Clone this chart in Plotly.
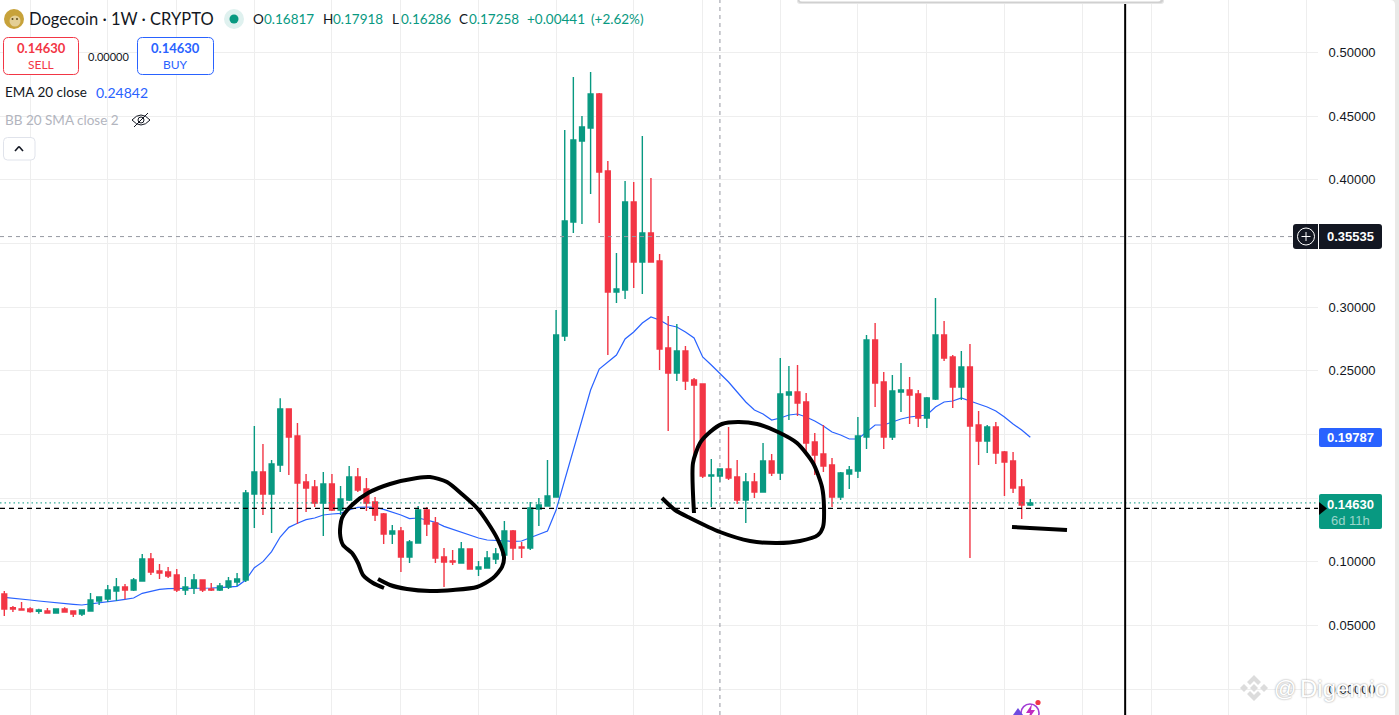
"""Dogecoin weekly candles with EMA 20, hand-drawn marks and the TradingView header."""

import plotly.graph_objects as go

UP = "#089981"
DOWN = "#F23645"
BLUE = "#2962FF"
INK = "#131722"
GRID = "#eeeeee"
FONT = "Liberation Sans"
HEAD_FONT = "Lato"

OPEN = [
    .07481, .06408, .06303, .06303, .06120, .06146, .05989, .06303, .06146, .05911,
    .06146, .06931, .07088, .07716, .08030, .07795, .08501, .10228, .09286, .09207,
    .08972, .07795, .07952, .08580, .07873, .07795, .08030, .08423, .08580, .15330,
    .17057, .15330, .17606, .22002, .19882, .16272, .15879, .14623, .16115, .14074,
    .14859, .16664, .15722, .14702, .13760, .12190, .12426, .10385, .11484, .14074,
    .13054, .10385, .10071, .09914, .11013, .09443, .09521, .10228, .10542, .12426,
    .11170, .11091, .14152, .14388, .15094, .27731, .36679, .43037, .44058, .46726,
    .40682, .31185, .31342, .38249, .33540, .35816, .33618, .26789, .24827, .26554,
    .24278, .23964, .16742, .16742, .17292, .16664, .14859, .16271, .15487, .17920,
    .16978, .23100, .23336, .22551, .19411, .18469, .17606, .15094, .16899, .17135,
    .19804, .27417, .24121, .19804, .23336, .23493, .23179, .21295, .22786, .27810,
    .26083, .23728, .25298, .20746, .19490, .20589, .18626, .17920, .15879, .14466,
]
HIGH = [
    .07716, .06539, .06853, .06434, .06329, .06382, .06356, .06434, .06146, .06225,
    .07559, .07245, .08187, .08737, .08266, .08737, .10620, .10699, .09835, .09600,
    .09443, .08815, .09050, .08580, .08344, .08344, .08815, .09129, .15644, .20667,
    .19254, .17999, .22839, .22002, .20903, .16900, .16429, .17057, .16900, .15958,
    .17528, .17371, .16586, .15094, .13838, .12897, .12740, .11719, .14388, .14309,
    .13525, .11091, .10934, .11562, .11013, .10071, .10856, .11091, .13211, .12504,
    .11562, .14702, .15016, .17999, .29772, .43901, .48061, .44999, .48453, .46805,
    .41467, .34246, .39897, .39819, .43430, .40133, .34168, .29301, .28673, .26946,
    .24435, .24016, .18077, .17292, .20589, .17998, .16978, .16978, .19333, .18469,
    .26004, .25377, .25455, .23257, .20118, .20745, .18155, .17056, .17527, .21374,
    .27810, .28752, .24906, .24670, .25612, .24513, .23493, .22943, .30714, .28909,
    .26240, .26554, .27103, .21844, .20746, .20981, .18705, .18626, .16507, .14937,
]
LOW = [
    .05754, .06068, .06225, .06015, .05937, .05989, .05989, .06015, .05675, .05754,
    .06146, .06617, .06853, .06931, .07062, .07716, .08501, .08972, .08658, .08737,
    .07638, .07402, .07481, .07638, .07716, .07716, .07873, .08109, .08423, .12661,
    .13681, .12269, .17057, .16821, .12975, .13917, .14309, .12033, .13995, .13681,
    .14780, .15487, .13995, .13211, .11405, .11405, .09207, .09914, .11484, .12033,
    .09914, .08030, .09757, .09914, .09443, .08893, .09521, .09835, .10542, .10149,
    .10306, .10934, .12818, .14388, .15094, .27339, .35816, .36522, .38877, .36601,
    .26240, .30321, .30635, .31499, .31028, .33540, .25062, .20274, .24199, .23493,
    .18155, .16585, .14309, .16271, .16428, .14545, .13053, .15016, .15487, .16742,
    .16428, .21138, .21452, .18626, .16821, .17056, .14309, .14859, .15722, .16586,
    .18862, .22158, .18862, .19568, .21766, .20824, .20589, .20510, .22708, .25769,
    .22080, .22708, .10306, .17606, .18548, .17684, .15173, .15408, .13367, .14388,
]
CLOSE = [
    .06303, .06303, .06225, .06094, .06225, .05989, .06303, .06068, .05911, .06225,
    .07010, .07245, .07795, .08030, .07795, .08580, .10228, .09207, .09129, .08893,
    .07795, .08030, .08580, .07795, .07795, .08109, .08501, .08658, .15408, .17057,
    .15330, .17685, .22002, .19804, .16193, .15801, .14623, .16115, .14074, .14937,
    .16664, .15644, .14623, .13681, .12190, .12426, .10385, .11562, .14074, .12975,
    .10306, .09992, .09992, .11013, .09443, .09600, .10306, .10620, .12426, .11091,
    .11091, .14231, .14466, .15173, .27810, .36758, .43116, .44136, .46726, .40604,
    .31185, .31420, .38249, .33540, .35816, .33540, .26711, .24827, .26554, .24199,
    .23885, .16742, .16821, .17292, .16585, .14859, .16271, .15487, .17920, .16978,
    .23179, .23336, .22472, .19333, .18391, .17527, .15094, .16978, .17213, .19882,
    .27417, .24042, .19804, .23414, .23493, .23100, .21295, .22865, .27810, .26005,
    .23728, .25298, .20667, .19490, .20589, .18548, .17841, .15801, .14466, .14630,
]
EMA = [
    .07219, .07167, .07088, .07010, .06931, .06853, .06801, .06748, .06670, .06617,
    .06696, .06748, .06879, .06958, .07062, .07167, .07533, .07716, .07847, .07899,
    .07899, .07899, .07925, .07952, .07952, .07978, .08030, .08082, .08580, .09548,
    .10019, .10803, .11955, .12713, .13028, .13315, .13446, .13681, .13760, .13812,
    .14074, .14283, .14309, .14283, .14126, .13917, .13681, .13394, .13446, .13289,
    .13106, .12792, .12556, .12321, .12059, .11876, .11719, .11667, .11641, .11615,
    .11641, .11902, .12164, .12426, .14074, .16429, .18626, .21138, .23493, .25141,
    .25691, .26240, .27496, .28046, .28752, .29223, .28987, .28595, .28438, .28046,
    .27575, .26083, .25455, .24827, .24121, .23336, .22551, .21923, .21609, .21138,
    .21295, .21531, .21609, .21374, .21060, .20667, .20196, .19961, .19647, .19647,
    .20196, .20746, .20746, .20981, .21217, .21374, .21452, .21531, .22159, .22551,
    .22630, .22865, .22630, .22394, .22159, .21845, .21374, .20824, .20353, .19787,
]
WEEKS = list(range(len(CLOSE)))

PRICE_TICKS = [0, .05, .10, .15, .20, .25, .30, .35, .40, .45, .50]
WEEK_GRID = [3, 12, 20, 29, 38, 46, 55, 64, 73, 81, 90, 99, 107, 116, 125, 133, 142, 151]

LAST_PRICE = .14630
DRAWN_LEVEL = .14207
CROSS_PRICE = .35535
CROSS_WEEK = 83
DRAWN_LINE_WEEK = 130

# freehand marks, in page pixels
LOOP_LEFT_X = [384, 373, 363, 358, 352, 343, 340, 342, 352, 368, 390, 417, 430, 447, 463, 477, 488, 498, 504, 502, 493, 477, 453, 430, 407, 390, 378]
LOOP_LEFT_Y = [588, 583, 575, 563, 553, 545, 533, 518, 505, 493, 484, 478, 477, 482, 495, 508, 523, 540, 557, 567, 578, 587, 590, 591, 589, 585, 579]
LOOP_RIGHT_X = [694, 693, 700, 710, 722, 738, 757, 778, 797, 813, 822, 824, 823, 818, 800, 777, 750, 720, 690, 675, 662]
LOOP_RIGHT_Y = [513, 463, 443, 432, 424, 422, 424, 432, 443, 463, 487, 507, 527, 535, 541, 543, 541, 532, 518, 510, 498]
DASH_X = [1012, 1067]
DASH_Y = [527, 530]

# the plot runs from x=0 to x=1318 on a 1399x715 page
W, H = 1399, 715
PLOT_W = 1318
X0_PX, X_STEP = 4.3, 8.622
Y0_PX, Y_SCALE = 689.3, 1274
X_RANGE = [(0 - X0_PX) / X_STEP, (PLOT_W - X0_PX) / X_STEP]
Y_RANGE = [(Y0_PX - H) / Y_SCALE, Y0_PX / Y_SCALE]


def text(x, y, s, size=13, color=INK, anchor="left", family=HEAD_FONT, **font):
    return dict(
        x=x, y=y, xref="x2", yref="y3", text=s, showarrow=False,
        xanchor=anchor, yanchor="middle", borderpad=0,
        font=dict(size=size, color=color, family=family, **font),
    )


def rounded(x0, y0, x1, y1, r, fill="white", line=None, width=1):
    path = (
        f"M {x0 + r} {y0} L {x1 - r} {y0} Q {x1} {y0} {x1} {y0 + r} "
        f"L {x1} {y1 - r} Q {x1} {y1} {x1 - r} {y1} L {x0 + r} {y1} "
        f"Q {x0} {y1} {x0} {y1 - r} L {x0} {y0 + r} Q {x0} {y0} {x0 + r} {y0} Z"
    )
    return dict(
        type="path", path=path, xref="x2", yref="y3", layer="above", fillcolor=fill,
        line=dict(color=line or "rgba(0,0,0,0)", width=width),
    )


def circle(cx, cy, r, fill="rgba(0,0,0,0)", line=None, width=1):
    return dict(
        type="circle", x0=cx - r, y0=cy - r, x1=cx + r, y1=cy + r, xref="x2", yref="y3",
        layer="above", fillcolor=fill, line=dict(color=line or "rgba(0,0,0,0)", width=width),
    )


def stroke(x0, y0, x1, y1, color, width=1):
    return dict(
        type="line", x0=x0, y0=y0, x1=x1, y1=y1, xref="x2", yref="y3", layer="above",
        line=dict(color=color, width=width),
    )


def polygon(path, fill):
    return dict(
        type="path", path=path, xref="x2", yref="y3", layer="above",
        fillcolor=fill, line=dict(width=0),
    )


fig = go.Figure()

# EMA sits on the lower y axis so the candles cover it
fig.add_trace(go.Scatter(
    x=WEEKS, y=EMA, mode="lines", line=dict(color=BLUE, width=1.2),
    xaxis="x", yaxis="y", hoverinfo="skip", showlegend=False,
))
fig.add_trace(go.Candlestick(
    x=WEEKS, open=OPEN, high=HIGH, low=LOW, close=CLOSE,
    increasing=dict(line=dict(color=UP, width=1.4), fillcolor=UP),
    decreasing=dict(line=dict(color=DOWN, width=1.4), fillcolor=DOWN),
    whiskerwidth=0, xaxis="x", yaxis="y2", hoverinfo="skip", showlegend=False,
))

for xs, ys, color, width, dash in (
    (X_RANGE, [LAST_PRICE, LAST_PRICE], UP, 1, "1.5px,3px"),
    (X_RANGE, [DRAWN_LEVEL, DRAWN_LEVEL], "#000000", 1.2, "5px,4px"),
    (X_RANGE, [CROSS_PRICE, CROSS_PRICE], "#9598a1", 1, "4px,4px"),
    ([CROSS_WEEK, CROSS_WEEK], Y_RANGE, "#9598a1", 1, "4px,4px"),
    ([DRAWN_LINE_WEEK, DRAWN_LINE_WEEK], Y_RANGE, "#000000", 2, "solid"),
):
    fig.add_trace(go.Scatter(
        x=xs, y=ys, mode="lines", line=dict(color=color, width=width, dash=dash),
        xaxis="x", yaxis="y2", hoverinfo="skip", showlegend=False,
    ))

for xs, ys in ((LOOP_LEFT_X, LOOP_LEFT_Y), (LOOP_RIGHT_X, LOOP_RIGHT_Y), (DASH_X, DASH_Y)):
    fig.add_trace(go.Scatter(
        x=xs, y=ys, mode="lines", line=dict(color="#000000", width=4, shape="spline", smoothing=0.7),
        xaxis="x2", yaxis="y3", hoverinfo="skip", showlegend=False,
    ))

shapes = [
    # popup edge at the top, page edge at the right
    rounded(797, -4, 1164, 4, 3, fill="#e6e6e6"),
    rounded(798, -4, 1163, 3, 3, fill="#d0d0d0"),
    rounded(799, -4, 1161, 1.5, 3, fill="#ffffff"),
    polygon("M 1399 0 L 1390 0 Q 1395 0 1395 5 L 1395 715 L 1399 715 Z", "#e9e9e7"),
    # coin logo and market status dot
    circle(14, 19, 10, fill="#c7a23a"),
    circle(15, 21, 5.5, fill="#e4cf95"),
    circle(12.5, 19, 1, fill="#5b4a1c"),
    circle(17, 19, 1, fill="#5b4a1c"),
    circle(234, 19, 10, fill="#dff1ef"),
    circle(234, 19, 4.5, fill=UP),
    # sell and buy buttons
    rounded(3.5, 37.5, 78.5, 74.5, 5, line=DOWN),
    rounded(137.5, 37.5, 213.5, 74.5, 5, line=BLUE),
    # hidden-indicator eye and collapse button
    dict(type="path", path="M 132 120 Q 141 110 150 120 Q 141 130 132 120 Z", xref="x2", yref="y3",
         layer="above", fillcolor="rgba(0,0,0,0)", line=dict(color=INK, width=1)),
    circle(141, 120, 3, line=INK),
    stroke(134, 127, 148, 113, INK),
    rounded(3.5, 137.5, 35, 160, 4, line="#e0e3eb"),
    stroke(15, 151, 19, 146.5, INK, 1.6),
    stroke(19, 146.5, 23, 151, INK, 1.6),
    # price labels on the scale
    rounded(1293, 224, 1382, 249, 3, fill=INK),
    stroke(1318.5, 224, 1318.5, 249, "#ffffff"),
    circle(1306, 236.5, 8.5, line="#ffffff"),
    stroke(1301.5, 236.5, 1310.5, 236.5, "#ffffff"),
    stroke(1306, 232, 1306, 241, "#ffffff"),
    rounded(1319, 428, 1382, 447, 2, fill=BLUE),
    rounded(1319, 494, 1382, 529, 2, fill=UP),
    polygon("M 1319 502 L 1327 508.5 L 1319 515 Z", "#000000"),
    # exchange logo watermark
    polygon("M 1254 675 L 1261 682 L 1258 685 L 1254 681 L 1250 685 L 1247 682 Z", "#dcdcdc"),
    polygon("M 1254 701 L 1261 694 L 1258 691 L 1254 695 L 1250 691 L 1247 694 Z", "#dcdcdc"),
    polygon("M 1254 684 L 1258 688 L 1254 692 L 1250 688 Z", "#dcdcdc"),
    polygon("M 1244 684 L 1248 688 L 1244 692 L 1240 688 Z", "#dcdcdc"),
    polygon("M 1264 684 L 1268 688 L 1264 692 L 1260 688 Z", "#dcdcdc"),
    # badge clipped by the bottom of the page
    circle(1030, 713, 9, line="#a23cd6", width=1.6),
    polygon("M 1032 704 L 1026 713 L 1030 713 L 1028 720 L 1035 710 L 1031 710 Z", "#c02bc0"),
    polygon("M 1013 715 L 1018 708 L 1023 715 Z", "#6f4be0"),
    circle(1038, 702.5, 2.6, fill=DOWN),
]

annotations = [
    text(28, 19, "Dogecoin · 1W · CRYPTO", size=16.5),
    text(252, 19, "O", size=13.5), text(263, 19, "0.16817", size=13.5, color=UP),
    text(322, 19, "H", size=13.5), text(332, 19, "0.17918", size=13.5, color=UP),
    text(391, 19, "L", size=13.5), text(400, 19, "0.16286", size=13.5, color=UP),
    text(458, 19, "C", size=13.5), text(468, 19, "0.17258", size=13.5, color=UP),
    text(526, 19, "+0.00441", size=13.5, color=UP),
    text(590, 19, "(+2.62%)", size=13.5, color=UP),
    text(41, 48, "<b>0.14630</b>", size=13, color=DOWN, anchor="center"),
    text(41, 64, "SELL", size=12, color=DOWN, anchor="center"),
    text(108, 56, "0.00000", size=11, anchor="center"),
    text(175.5, 48, "<b>0.14630</b>", size=13, color=BLUE, anchor="center"),
    text(175.5, 64, "BUY", size=12, color=BLUE, anchor="center"),
    text(4, 92, "EMA 20 close", size=13.5),
    text(95, 92, "0.24842", size=14, color=BLUE),
    text(4, 120, "BB 20 SMA close 2", size=13.5, color="#b2b5be"),
    text(1350.5, 236.5, "<b>0.35535</b>", size=13, color="#ffffff", anchor="center", family=FONT),
    text(1350.5, 437.5, "<b>0.19787</b>", size=13, color="#ffffff", anchor="center", family=FONT),
    text(1350.5, 504, "<b>0.14630</b>", size=13, color="#ffffff", anchor="center", family=FONT),
    text(1350.5, 520, "6d 11h", size=13, color="rgba(255,255,255,0.6)", anchor="center", family=FONT),
    text(1273, 688, "@", size=22, color="#ffffff", family=FONT, shadow="0px 0px 2px #8a8a8a"),
    text(1299, 688, "Digemio", size=24, color="#ffffff", family=FONT, shadow="0px 0px 2px #8a8a8a"),
]

axis_common = dict(showline=False, zeroline=False)
fig.update_layout(
    width=W,
    height=H,
    margin=dict(l=0, r=0, t=0, b=0),
    paper_bgcolor="#ffffff",
    # transparent: a filled overlay subplot would paint over the chart below it
    plot_bgcolor="rgba(0,0,0,0)",
    showlegend=False,
    boxgap=0.2,
    shapes=shapes,
    annotations=annotations,
    xaxis=dict(
        domain=[0, PLOT_W / W], range=X_RANGE, tickvals=WEEK_GRID, showticklabels=False,
        gridcolor=GRID, gridwidth=1, ticks="", rangeslider=dict(visible=False), anchor="y", **axis_common,
    ),
    yaxis=dict(
        domain=[0, 1], range=Y_RANGE, side="right", anchor="x", tickvals=PRICE_TICKS, tickformat=".5f",
        gridcolor=GRID, gridwidth=1, ticks="outside", ticklen=7, tickcolor="rgba(0,0,0,0)",
        tickfont=dict(family=FONT, size=13, color=INK), **axis_common,
    ),
    yaxis2=dict(
        range=Y_RANGE, overlaying="y", side="right", showgrid=False, showticklabels=False, **axis_common,
    ),
    xaxis2=dict(domain=[0, 1], range=[0, W], visible=False, anchor="y3"),
    yaxis3=dict(domain=[0, 1], range=[H, 0], visible=False, anchor="x2"),
)

fig.write_html("out.html", config={"displayModeBar": False}, post_script="document.body.style.margin='0';")
